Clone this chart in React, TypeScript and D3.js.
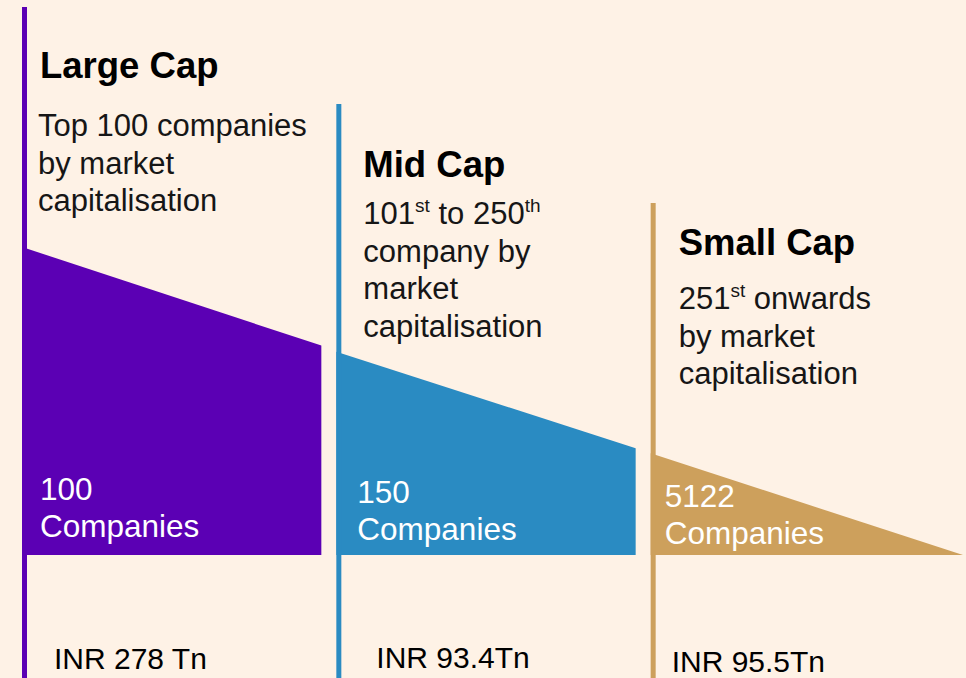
import React from "react";
import { scaleBand, scaleLinear, line } from "d3";

const categories = ["Large Cap", "Mid Cap", "Small Cap"];
const descriptions = [
  ["Top 100 companies", "by market", "capitalisation"],
  ["101^st^ to 250^th^", "company by", "market", "capitalisation"],
  ["251^st^ onwards", "by market", "capitalisation"]
];
const companyCounts = [100, 150, 5122];
const marketCaps = ["INR 278 Tn", "INR 93.4Tn", "INR 95.5Tn"];
// height of each wedge at its left and right edge (arbitrary steps)
const levelStart = [3, 1.98, 0.99];
const levelEnd = [2.04, 1.04, 0];
const colors = ["#5B00B4", "#2A8BC2", "#CDA05C"];

const W = 966;
const H = 678;
const BASE = 555;
const font = "'Liberation Sans', Arial, sans-serif";

// per-column text layout
const titleDx = [18, 27, 28];
const descDx = [16, 27, 28];
const countDx = [18, 21, 14];
const capDx = [32, 40, 21];
const stemTop = [7, 104, 203];
const titleY = [78, 177, 255];
const descY = [136, 224, 309];
const countY = [500, 503, 507];
const capY = [669, 668, 672];

const renderLine = (s: string) => {
  const parts = s.split("^");
  const out: any[] = [];
  let raised = false;
  parts.forEach((p, k) => {
    if (!p) return;
    if (k % 2 === 1) {
      out.push(
        <tspan key={k} dy={-12} fontSize={19}>
          {p}
        </tspan>
      );
      raised = true;
    } else {
      out.push(
        <tspan key={k} dy={raised ? 12 : 0}>
          {p}
        </tspan>
      );
      raised = false;
    }
  });
  return out;
};

const App = () => {
  const x = scaleBand<string>().domain(categories).range([22, 965]).padding(0);
  const y = scaleLinear().domain([0, 3]).range([BASE, 247]);
  const path = line();

  return (
    <svg
      width={W}
      height={H}
      viewBox={`0 0 ${W} ${H}`}
      style={{ position: "absolute", left: 0, top: 0, background: "#FEF2E6" }}
    >
      {categories.map((c, i) => {
        const x0 = x(c)!;
        const last = i === categories.length - 1;
        const x1 = last ? W - 3 : x(categories[i + 1])! - 15;
        const pts: [number, number][] = [
          [x0, y(levelStart[i])],
          [x1, y(levelEnd[i])],
          [x1, y(0)],
          [x0, y(0)]
        ];
        return (
          <g key={c}>
            <path d={path(pts) + "Z"} fill={colors[i]} />
            <rect x={x0} y={stemTop[i]} width={5} height={H - stemTop[i]} fill={colors[i]} />
            <text
              x={x0 + titleDx[i]}
              y={titleY[i]}
              fontFamily={font}
              fontWeight="bold"
              fontSize={36.5}
              fill="#000"
            >
              {c}
            </text>
            {descriptions[i].map((d, j) => (
              <text
                key={j}
                x={x0 + descDx[i]}
                y={descY[i] + j * 37.5}
                fontFamily={font}
                fontSize={31}
                fill="#161616"
              >
                {renderLine(d)}
              </text>
            ))}
            <text x={x0 + countDx[i]} y={countY[i]} fontFamily={font} fontSize={31.5} fill="#fff">
              {companyCounts[i]}
            </text>
            <text x={x0 + countDx[i]} y={countY[i] + 37} fontFamily={font} fontSize={31.5} fill="#fff">
              Companies
            </text>
            <text x={x0 + capDx[i]} y={capY[i]} fontFamily={font} fontSize={30} fill="#000">
              {marketCaps[i]}
            </text>
          </g>
        );
      })}
    </svg>
  );
};

export default App;
